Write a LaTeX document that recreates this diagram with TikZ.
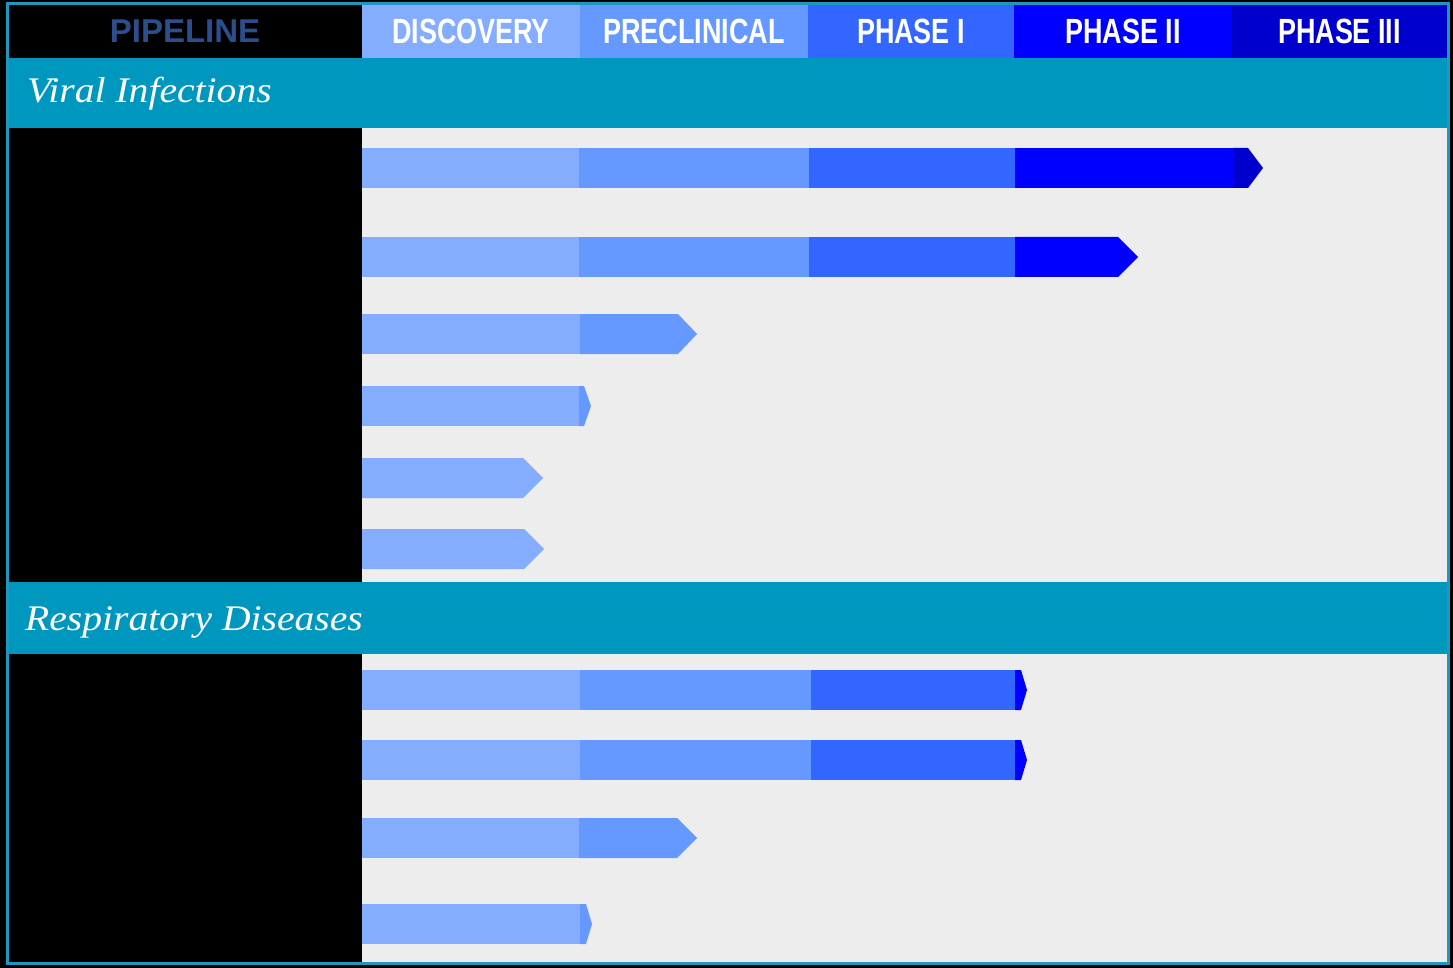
\documentclass[tikz,border=0pt]{standalone}
\usepackage{fontspec}
\usepackage{graphicx}
\setmainfont{Liberation Serif}
\setsansfont{Liberation Sans}
\definecolor{disc}{HTML}{84ADFF}
\definecolor{pre}{HTML}{6699FF}
\definecolor{phone}{HTML}{3366FF}
\definecolor{phtwo}{HTML}{0000FF}
\definecolor{phthree}{HTML}{0000CC}
\definecolor{band}{HTML}{0097BE}
\definecolor{panel}{HTML}{EDEDED}
\definecolor{frame}{HTML}{1F98BF}
\definecolor{pipe}{HTML}{2B4E8C}
\tikzset{
  hcell/.style={inner sep=0pt, minimum height=53pt, text=white, font=\sffamily\bfseries\fontsize{35}{35}\selectfont},
  sect/.style={anchor=base west, inner sep=0pt, text=white, font=\itshape\fontsize{36}{36}\selectfont},
}
\newcommand{\hlab}[1]{\scalebox{0.77}[1]{#1}}
\newcommand{\slab}[1]{\scalebox{1.1}[1]{#1}}
% tip: colour, x0, x1, xp, top, bottom
\newcommand{\ptip}[6]{\fill[#1] (#2,#5) -- (#3,#5) -- (#4,{(#5+#6)/2}) -- (#3,#6) -- (#2,#6) -- cycle;}
\begin{document}
\begin{tikzpicture}[x=1pt,y=-1pt]
\useasboundingbox (0,0) rectangle (1453,968);
\fill[black] (0,0) rectangle (1453,968);
% panels
\fill[panel] (362,128) rectangle (1447,582);
\fill[panel] (362,654) rectangle (1447,962);
% header
\node[hcell, fill=black, minimum width=354pt, text=pipe, font=\sffamily\bfseries\fontsize{33}{33}\selectfont] (hpipe) at (185,31.5) {PIPELINE};
\node[hcell, fill=disc, minimum width=218pt] (hdisc) at (471,31.5) {\hlab{DISCOVERY}};
\node[hcell, fill=pre, minimum width=228pt] (hpre) at (694,31.5) {\hlab{PRECLINICAL}};
\node[hcell, fill=phone, minimum width=206pt] (hone) at (911,31.5) {\hlab{PHASE I}};
\node[hcell, fill=phtwo, minimum width=218pt] (htwo) at (1123,31.5) {\hlab{PHASE II}};
\node[hcell, fill=phthree, minimum width=215pt] (hthree) at (1339.5,31.5) {\hlab{PHASE III}};
% section bands
\fill[band] (8,58) rectangle (1447,128);
\node[sect] (viral) at (27,103) {\slab{Viral Infections}};
\fill[band] (8,582) rectangle (1447,654);
\node[sect] (resp) at (25,630) {\slab{Respiratory Diseases}};
% row 1
\fill[disc] (362,148) rectangle (579,188);
\fill[pre] (579,148) rectangle (809,188);
\fill[phone] (809,148) rectangle (1015,188);
\fill[phtwo] (1015,148) rectangle (1233,188);
\ptip{phthree}{1233}{1248}{1263}{148}{188}
% row 2
\fill[disc] (362,237) rectangle (579,277);
\fill[pre] (579,237) rectangle (809,277);
\fill[phone] (809,237) rectangle (1015,277);
\ptip{phtwo}{1015}{1118}{1138}{237}{277}
% row 3
\fill[disc] (362,314) rectangle (580,354);
\ptip{pre}{580}{678}{697}{314}{354}
% row 4
\fill[disc] (362,386) rectangle (579,426);
\ptip{pre}{579}{584}{591}{386}{426}
% row 5
\ptip{disc}{362}{523}{543}{458}{498}
% row 6
\ptip{disc}{362}{524}{544}{529}{569}
% row 7
\fill[disc] (362,670) rectangle (580,710);
\fill[pre] (580,670) rectangle (811,710);
\fill[phone] (811,670) rectangle (1015,710);
\ptip{phtwo}{1015}{1021}{1027}{670}{710}
% row 8
\fill[disc] (362,740) rectangle (580,780);
\fill[pre] (580,740) rectangle (811,780);
\fill[phone] (811,740) rectangle (1015,780);
\ptip{phtwo}{1015}{1021}{1027}{740}{780}
% row 9
\fill[disc] (362,818) rectangle (579,858);
\ptip{pre}{579}{677}{697}{818}{858}
% row 10
\fill[disc] (362,904) rectangle (580,944);
\ptip{pre}{580}{586}{592}{904}{944}
% frame
\draw[frame, line width=3pt] (7,4) rectangle (1448,963);
\end{tikzpicture}
\end{document}
